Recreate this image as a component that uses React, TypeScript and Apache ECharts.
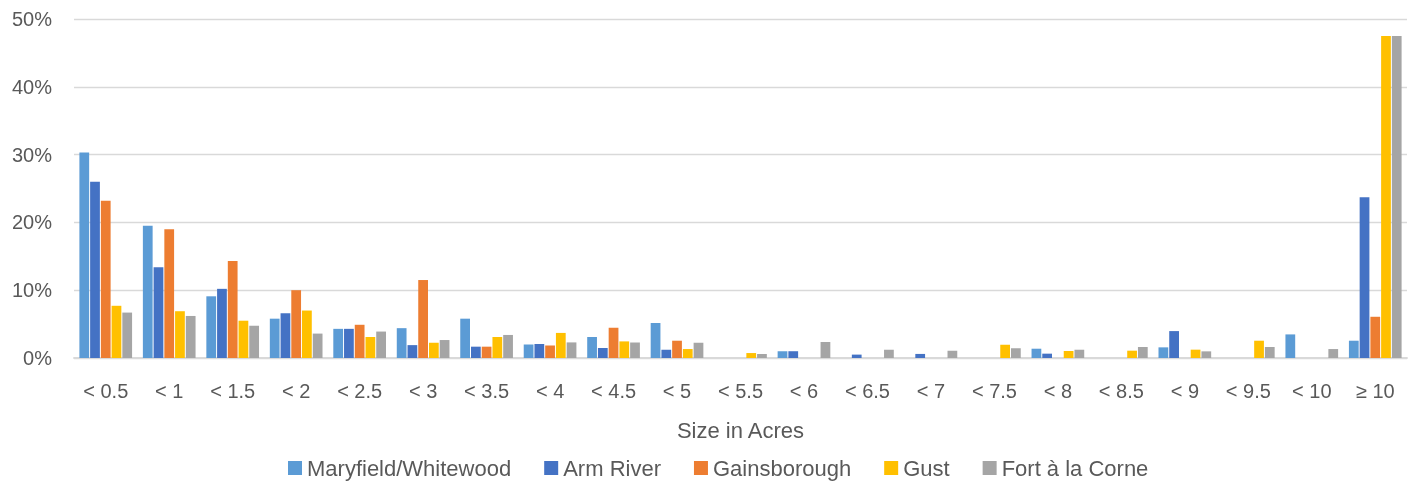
import React, { useEffect, useRef } from "react";
import * as echarts from "echarts";

const categories = ["< 0.5", "< 1", "< 1.5", "< 2", "< 2.5", "< 3", "< 3.5", "< 4", "< 4.5", "< 5", "< 5.5", "< 6", "< 6.5", "< 7", "< 7.5", "< 8", "< 8.5", "< 9", "< 9.5", "< 10", "≥ 10"];

const maryfield = [30.3, 19.5, 9.1, 5.8, 4.3, 4.4, 5.8, 2.0, 3.1, 5.15, 0, 1.0, 0, 0, 0, 1.37, 0, 1.57, 0, 3.48, 2.55];
const armRiver = [26.0, 13.4, 10.2, 6.6, 4.3, 1.9, 1.67, 2.06, 1.47, 1.23, 0, 1.0, 0.5, 0.6, 0, 0.64, 0, 3.97, 0, 0, 23.7];
const gainsborough = [23.2, 19.0, 14.3, 10.0, 4.9, 11.5, 1.67, 1.86, 4.46, 2.55, 0, 0, 0, 0, 0, 0, 0, 0, 0, 0, 6.08];
const gust = [7.7, 6.9, 5.5, 7.0, 3.1, 2.25, 3.1, 3.7, 2.45, 1.32, 0.73, 0, 0, 0, 1.96, 1.03, 1.08, 1.23, 2.55, 0, 47.5];
const fortALaCorne = [6.7, 6.2, 4.75, 3.6, 3.9, 2.65, 3.4, 2.3, 2.3, 2.25, 0.6, 2.35, 1.2, 1.08, 1.42, 1.22, 1.62, 0.98, 1.62, 1.32, 47.5];

const seriesNames = ["Maryfield/Whitewood", "Arm River", "Gainsborough", "Gust", "Fort à la Corne"];
const seriesColors = ["#5B9BD5", "#4472C4", "#ED7D31", "#FFC000", "#A5A5A5"];
const yTicks = { min: 0, max: 50, interval: 10 };

export default function App() {
  const ref = useRef<HTMLDivElement>(null);
  useEffect(() => {
    if (!ref.current) return;
    const chart = echarts.init(ref.current, null, { renderer: "svg" });
    const data = [maryfield, armRiver, gainsborough, gust, fortALaCorne];
    const font = "Liberation Sans";
    chart.setOption({
      animation: false,
      textStyle: { fontFamily: font },
      grid: { left: 74, right: 12, top: 19, bottom: 127 },
      legend: {
        data: seriesNames,
        left: 283,
        top: 452,
        itemWidth: 14,
        itemHeight: 14,
        itemGap: 33,
        icon: "rect",
        textStyle: { fontSize: 22, color: "#595959", fontFamily: font },
      },
      xAxis: {
        type: "category",
        data: categories,
        axisTick: { show: false },
        axisLine: { lineStyle: { color: "#D9D9D9", width: 1.8 } },
        axisLabel: { fontSize: 20, color: "#595959", margin: 23, fontFamily: font },
        name: "Size in Acres",
        nameLocation: "middle",
        nameGap: 61,
        nameTextStyle: { fontSize: 22, color: "#595959", fontFamily: font },
      },
      yAxis: {
        type: "value",
        min: yTicks.min,
        max: yTicks.max,
        interval: yTicks.interval,
        axisLine: { show: false },
        axisTick: { show: false },
        axisLabel: { formatter: "{value}%", fontSize: 20, color: "#595959", margin: 22, fontFamily: font },
        splitLine: { lineStyle: { color: "#D9D9D9", width: 1.3 } },
      },
      series: seriesNames.map((name, i) => ({
        name,
        type: "bar",
        data: data[i],
        itemStyle: { color: seriesColors[i] },
        barGap: "10%",
        barCategoryGap: "17%",
      })),
    });
    return () => chart.dispose();
  }, []);
  return <div ref={ref} style={{ position: "fixed", left: 0, top: 0, width: 1419, height: 485 }} />;
}
